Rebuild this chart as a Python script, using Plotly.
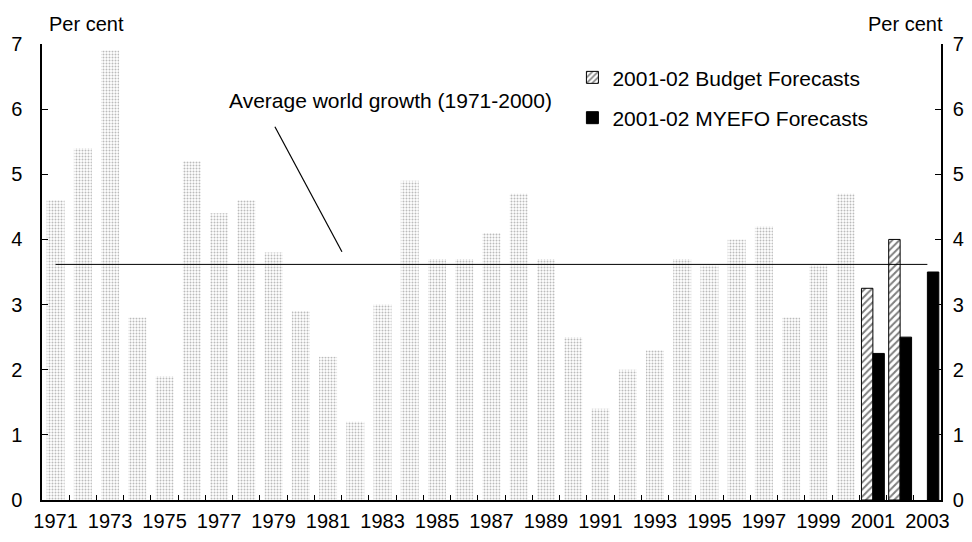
import plotly.graph_objects as go

# ---- data ----
years = [str(y) for y in range(1971, 2004)]
hist_years = [str(y) for y in range(1971, 2001)]
hist_growth = [4.6, 5.4, 6.9, 2.8, 1.9, 5.2, 4.4, 4.6, 3.8, 2.9,
               2.2, 1.2, 3.0, 4.9, 3.7, 3.7, 4.1, 4.7, 3.7, 2.5,
               1.4, 2.0, 2.3, 3.7, 3.6, 4.0, 4.2, 2.8, 3.6, 4.7]
budget_years = ["2001", "2002"]
budget_vals = [3.25, 4.0]
myefo_years = ["2001", "2002", "2003"]
myefo_vals = [2.25, 2.5, 3.5]
tick_text = [y if int(y) % 2 == 1 else "" for y in years]

avg_growth = sum(hist_growth) / len(hist_growth)

FONT = "Liberation Sans, Arial, Helvetica, sans-serif"

fig = go.Figure()

fig.add_trace(go.Bar(
    x=hist_years, y=hist_growth, width=0.66, offset=-0.33,
    marker=dict(color="white",
                pattern=dict(shape=".", fgcolor="#777777", bgcolor="white",
                             size=3, solidity=0.35),
                line=dict(width=0)),
    showlegend=False, hoverinfo="x+y",
))
fig.add_trace(go.Bar(
    x=budget_years, y=budget_vals, width=0.42, offset=-0.42,
    name="2001-02 Budget Forecasts", legendgroup="a",
    marker=dict(color="white",
                pattern=dict(shape="/", fgcolor="black", bgcolor="white",
                             size=5, solidity=0.4),
                line=dict(color="black", width=1)),
))
fig.add_trace(go.Bar(
    x=myefo_years, y=myefo_vals, width=0.42, offset=0,
    name="2001-02 MYEFO Forecasts", legendgroup="b",
    marker=dict(color="black", line=dict(color="black", width=1)),
))
fig.add_trace(go.Scatter(
    x=[years[0], years[-1]], y=[avg_growth, avg_growth], mode="lines",
    line=dict(color="black", width=1), showlegend=False, hoverinfo="skip",
))
fig.add_trace(go.Scatter(
    x=[years[0]], y=[None], yaxis="y2", showlegend=False, hoverinfo="skip",
))

fig.update_layout(
    width=956, height=526,
    margin=dict(l=34, r=23, t=36, b=34),
    paper_bgcolor="white", plot_bgcolor="white",
    barmode="overlay",
    font=dict(family=FONT, color="black", size=20),
    xaxis=dict(type="category", categoryorder="array", categoryarray=years,
               range=[-0.5, len(years) - 0.5],
               tickmode="array", tickvals=years, ticktext=tick_text,
               tickangle=0,
               tickson="boundaries", ticks="inside", ticklen=5,
               tickcolor="black", tickwidth=1,
               showline=True, linecolor="black", linewidth=1.5,
               showgrid=False, zeroline=False,
               tickfont=dict(size=20), ticklabelstandoff=2,
               automargin=False),
    yaxis=dict(range=[0, 7], dtick=1, ticks="inside", ticklen=6,
               tickcolor="black", showline=True, linecolor="black",
               linewidth=1.5, showgrid=False, zeroline=False,
               tickfont=dict(size=20), ticklabelstandoff=14,
               automargin=False),
    yaxis2=dict(range=[0, 7], dtick=1, overlaying="y", side="right",
                ticks="inside", ticklen=6, tickcolor="black",
                showline=True, linecolor="black", linewidth=1.5,
                showgrid=False, zeroline=False,
                tickfont=dict(size=20), ticklabelstandoff=6,
                automargin=False),
    legend=dict(x=0.590, y=0.971, xanchor="left", yanchor="top",
                font=dict(size=21), tracegroupgap=10,
                bgcolor="rgba(0,0,0,0)", borderwidth=0),
    annotations=[
        dict(text="Per cent", xref="paper", yref="paper", x=0.05, y=1.044,
             xanchor="center", yanchor="middle",
             showarrow=False, font=dict(size=20)),
        dict(text="Per cent", xref="paper", yref="paper", x=0.96, y=1.044,
             xanchor="center", yanchor="middle",
             showarrow=False, font=dict(size=20)),
        dict(text="Average world growth (1971-2000)", xref="paper",
             yref="paper", x=0.388, y=0.877, xanchor="center",
             yanchor="middle", showarrow=False,
             font=dict(size=21)),
    ],
    shapes=[
        dict(type="line", xref="x", yref="y", x0=8.05, y0=5.73,
             x1=10.51, y1=3.81, line=dict(color="black", width=1.2)),
    ],
)

fig.write_html("out.html")
